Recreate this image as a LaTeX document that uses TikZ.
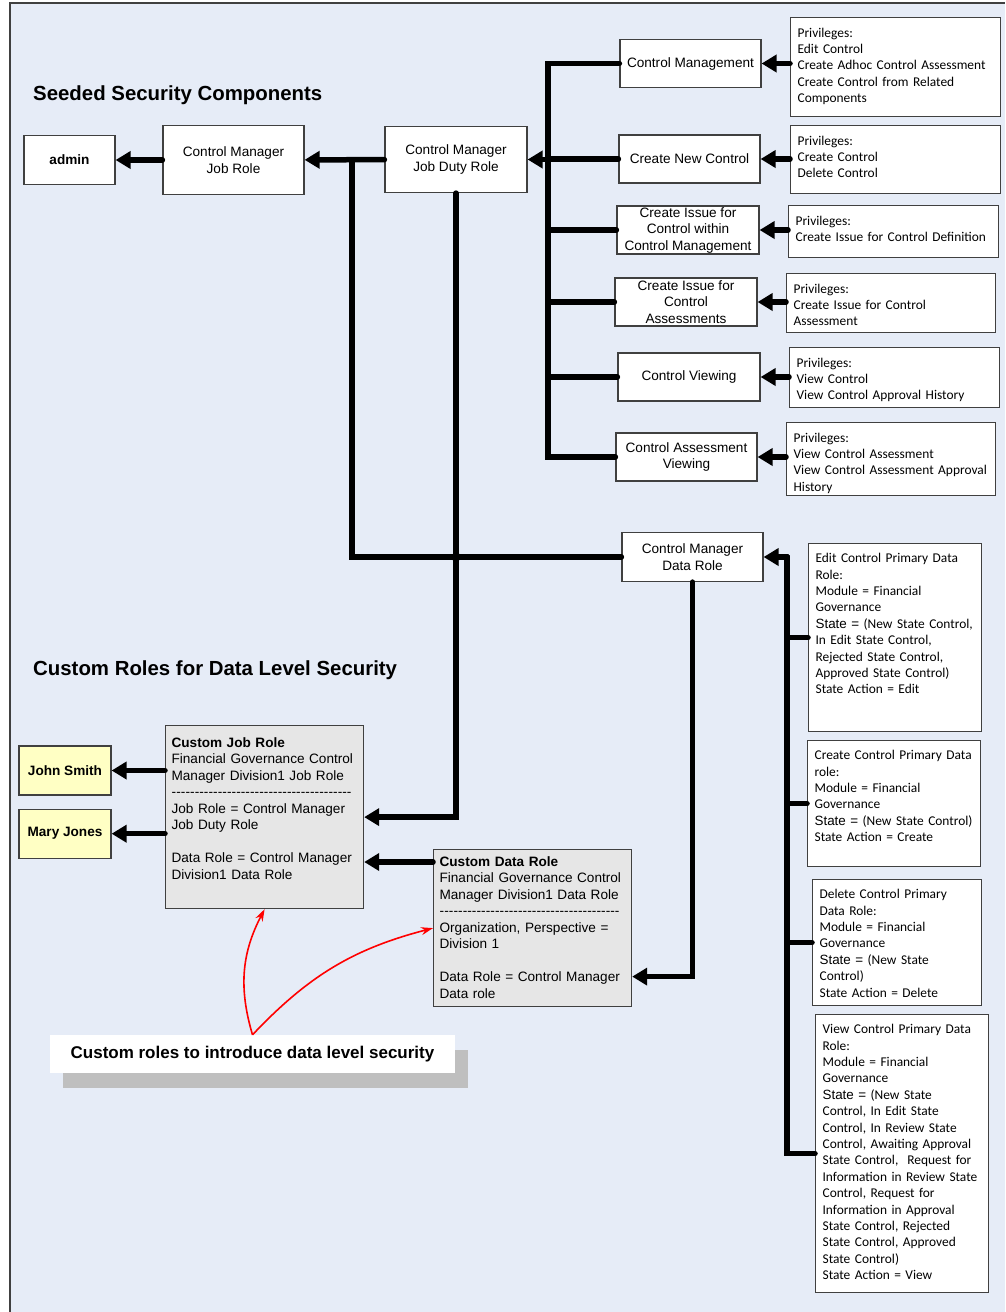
\documentclass[tikz,border=0pt]{standalone}
\usepackage{fontspec}
\setmainfont{Liberation Sans}
\newfontfamily\privfont{Carlito}
\usetikzlibrary{arrows.meta,positioning,shadows}

\definecolor{canvasblue}{HTML}{E6ECF7}
\definecolor{namefill}{HTML}{FFFFC4}
\definecolor{customfill}{HTML}{E6E6E6}
\definecolor{edgegray}{HTML}{404040}

\newcommand{\boxfont}{\fontsize{13.6pt}{16.5pt}\selectfont}
\newcommand{\privtext}{\privfont\fontsize{13.4pt}{16.4pt}\selectfont}
\newcommand{\dashline}{\makebox[180pt]{\xleaders\hbox{-}\hfill}}
\newcommand{\stateeq}{{\rmfamily State =}}
\newcommand{\nobreaklines}{\rightskip=0pt plus 1fil minus 30pt\hyphenpenalty=10000\relax}

\begin{document}
\begin{tikzpicture}[x=1pt,y=-1pt,
	role/.style={draw=edgegray,line width=1.2pt,fill=white,align=center,font=\boxfont,inner sep=2pt,minimum width=141pt,minimum height=48pt},
	person/.style={draw=edgegray,line width=1.2pt,fill=namefill,font=\boxfont\bfseries,minimum width=92pt,minimum height=49pt},
	privbox/.style 2 args={draw=edgegray,line width=1.2pt,fill=white,anchor=north west,align=left,font=\privtext,execute at begin node=\nobreaklines,inner xsep=7pt,inner ysep=9pt,text height=10.5pt,text width=#1,text depth=#2},
	databox/.style 2 args={draw=edgegray,line width=1.2pt,fill=white,anchor=north west,align=left,font=\privtext,execute at begin node=\nobreaklines,inner xsep=7pt,inner ysep=8.5pt,text height=10.5pt,text width=#1,text depth=#2},
	custombox/.style 2 args={draw=edgegray,line width=1.2pt,fill=customfill,anchor=north west,align=left,font=\boxfont,inner xsep=6pt,text height=10.5pt,text width=186pt,inner ysep=#1,text depth=#2},
	heading/.style={font=\fontsize{20.4pt}{24pt}\selectfont\bfseries,inner sep=0pt,anchor=west},
	notebox/.style={fill=white,minimum width=405pt,minimum height=38pt,font=\fontsize{17pt}{20pt}\selectfont\bfseries,drop shadow={shadow xshift=13pt,shadow yshift=-15pt,fill=black!25,opacity=1}},
	link/.style={line width=5.5pt,line cap=round,-{Triangle[length=15pt,width=17pt]}},
	bus/.style={line width=5.5pt,line cap=round},
	callarrow/.style={red,line width=1.6pt,-{Stealth[length=12pt,width=8pt]}}]
	\useasboundingbox (0,0) rectangle (1005,1312);
	\fill[white] (0,0) rectangle (1005,1312);
	\fill[canvasblue] (10,3) rectangle (1005,1312);
	\draw[edgegray,line width=1.3pt] (10,1312) -- (10,3) -- (1005,3);

	\node[heading] (seeded) at (33,95) {Seeded Security Components};
	\node[heading] (customtitle) at (33,670) {Custom Roles for Data Level Security};

	\node[role,minimum width=91pt,minimum height=49pt,font=\boxfont\bfseries] (admin) at (69.5,160) {admin};
	\node[role,minimum height=69pt] (jobrole) at (233.5,160) {Control Manager\\Job Role};
	\node[role,minimum width=142pt,minimum height=66pt] (duty) at (456,159.5) {Control Manager\\Job Duty Role};

	\node[role] (cmgmt) at (690.5,63.5) {Control Management};
	\node[role] (cnew) at (689.5,159) {Create New Control};
	\node[role,minimum width=142pt,inner sep=0pt] (cissue) at (688,230) {Create Issue for\\Control within\\Control Management};
	\node[role,minimum width=142pt,inner sep=0pt] (cassess) at (686,302) {Create Issue for\\Control\\Assessments};
	\node[role,minimum width=142pt] (cview) at (689,377) {Control Viewing};
	\node[role] (caview) at (686.5,457) {Control Assessment\\Viewing};
	\node[role,minimum height=49pt] (datarole) at (692.5,557) {Control Manager\\Data Role};

	\node[privbox={196pt}{70.5pt}] (pmgmt) at (790,17) {Privileges:\\Edit Control\\Create Adhoc Control Assessment\\Create Control from Related\\Components};
	\node[privbox={196pt}{39.5pt}] (pnew) at (790,125) {Privileges:\\Create Control\\Delete Control};
	\node[privbox={196pt}{23.5pt}] (pissue) at (788,205) {Privileges:\\Create Issue for Control Definition};
	\node[privbox={195pt}{30.5pt}] (passess) at (786,273) {Privileges:\\Create Issue for Control\\Assessment};
	\node[privbox={196pt}{31.5pt}] (pview) at (789,347) {Privileges:\\View Control\\View Control Approval History};
	\node[privbox={195pt}{44.5pt}] (paview) at (786,422) {Privileges:\\View Control Assessment\\View Control Assessment Approval\\History};

	\node[databox={159pt}{160.5pt}] (editrole) at (808,543) {Edit Control Primary Data\\Role:\\Module = Financial\\Governance\\\stateeq{} (New State Control,\\In Edit State Control,\\Rejected State Control,\\Approved State Control)\\State Action = Edit};
	\node[databox={159pt}{98.5pt}] (createrole) at (807,740) {Create Control Primary Data\\role:\\Module = Financial\\Governance\\\stateeq{} (New State Control)\\State Action = Create};
	\node[databox={155pt}{98.5pt}] (deleterole) at (812,879) {Delete Control Primary\\Data Role:\\Module = Financial\\Governance\\\stateeq{} (New State\\Control)\\State Action = Delete};
	\node[databox={159pt}{250.5pt}] (viewrole) at (815,1014) {View Control Primary Data\\Role:\\Module = Financial\\Governance\\\stateeq{} (New State\\Control, In Edit State\\Control, In Review State\\Control, Awaiting Approval\\State Control,\ \ Request for\\Information in Review State\\Control, Request for\\Information in Approval\\State Control, Rejected\\State Control, Approved\\State Control)\\State Action = View};

	\node[person] (john) at (65,770.5) {John Smith};
	\node[person,below=13pt of john] (mary) {Mary Jones};
	\node[custombox={11pt}{150.5pt}] (cjob) at (165,725) {\textbf{Custom Job Role}\\Financial Governance Control\\Manager Division1 Job Role\\\dashline\\Job Role = Control Manager\\Job Duty Role\\[16.5pt]Data Role = Control Manager\\Division1 Data Role};
	\node[custombox={6pt}{134.5pt}] (cdata) at (433,849) {\textbf{Custom Data Role}\\Financial Governance Control\\Manager Division1 Data Role\\\dashline\\Organization, Perspective =\\Division 1\\[16.5pt]Data Role = Control Manager\\Data role};

	\node[notebox] (note) at (252.5,1054) {Custom roles to introduce data level security};

	\coordinate (split) at (352,160);
	\coordinate (trunk) at (548,159.5);
	\coordinate (dbus) at (787,557);
	\coordinate (cdlow) at ([yshift=-48.5pt]cdata.east);
	\coordinate (cdtop) at ([yshift=-13pt]cdata.north west);

	\foreach \c in {cmgmt,cnew,cissue,cassess,cview,caview}
		\draw[bus] (\c.west) -| (trunk);
	\foreach \d in {editrole,createrole,deleterole,viewrole}
		\draw[bus] (\d.west) -| (dbus);
	\draw[bus] (datarole.west) -| (split);

	\path[link]
	(jobrole) edge (admin)
	(duty) edge (jobrole)
	(trunk) edge (duty.east)
	(pmgmt.west |- cmgmt) edge (cmgmt)
	(pnew.west |- cnew) edge (cnew)
	(pissue.west |- cissue) edge (cissue)
	(passess.west |- cassess) edge (cassess)
	(pview.west |- cview) edge (cview)
	(paview.west |- caview) edge (caview)
	(dbus) edge (datarole.east)
	(cjob.west |- john) edge (john)
	(cjob.west |- mary) edge (mary)
	(cdtop) edge (cdtop -| cjob.east)
	;
	\draw[link] (duty.south) |- (cjob.east);
	\draw[link] (datarole.south) |- (cdlow);
	\fill (duty.south |- datarole) circle (4.5pt);

	\draw[callarrow] (note.north) to[bend left=22] (cjob.south);
	\draw[callarrow] (note.north) to[bend left=16] (cdata.west);
\end{tikzpicture}
\end{document}
